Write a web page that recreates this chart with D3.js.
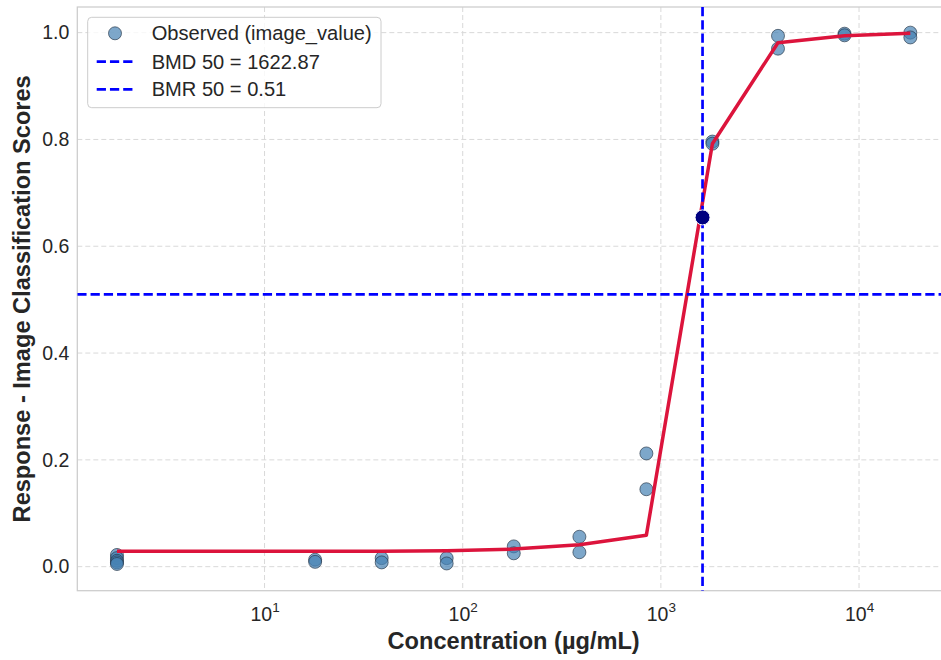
<!DOCTYPE html>
<html><head><meta charset="utf-8">
<script src="https://cdn.jsdelivr.net/npm/d3@7"></script>
<style>
body{margin:0;background:#fff;}
svg{display:block;font-family:"Liberation Sans",Arial,sans-serif;}
</style></head>
<body>
<svg id="chart" width="941" height="660"></svg>
<script>
// ---- data ----
const obsConc = [1.8,1.8,1.8,1.8,1.8, 18,18, 39,39, 83,83, 181,181, 388,388, 845,845, 1820,1820, 3900,3900, 8450,8450, 18150,18150];
const obsValue = [0.022,0.016,0.011,0.008,0.005, 0.013,0.009, 0.016,0.008, 0.016,0.006, 0.038,0.025, 0.056,0.027, 0.212,0.145, 0.796,0.792, 0.994,0.970, 0.998,0.995, 1.0,0.991];
const fitConc = [1.8,18,39,83,181,388,845,1820,3900,8450,18150];
const fitValue = [0.029,0.029,0.029,0.030,0.033,0.041,0.059,0.792,0.981,0.994,0.999];
const bmd = 1622.87;
const bmr = 0.51;
const bmdPointValue = 0.654;
const yTicks = [0.0,0.2,0.4,0.6,0.8,1.0];
const xTickExps = [1,2,3,4];
const legendLabels = ["Observed (image_value)", "BMD 50 = 1622.87", "BMR 50 = 0.51"];
const xLabel = "Concentration (\u00b5g/mL)";
const yLabel = "Response - Image Classification Scores";

// ---- layout ----
const pL = 77.3, pR = 950, pT = 7, pB = 590.7;
const svg = d3.select("#chart");
const lmin = Math.log10(d3.min(obsConc)), lmax = Math.log10(d3.max(obsConc));
const pad = 0.05*(lmax-lmin);
const x = d3.scaleLog().domain([Math.pow(10,lmin-pad), Math.pow(10,lmax+pad)]).range([pL,pR]);
const y = d3.scaleLinear().domain([-0.045,1.048]).range([pB,pT]);
const textColor = "#262626";

// grid
const grid = svg.append("g");
grid.selectAll(".gx").data(xTickExps).join("line")
  .attr("x1",d=>x(Math.pow(10,d))).attr("x2",d=>x(Math.pow(10,d)))
  .attr("y1",pT).attr("y2",pB)
  .attr("stroke","#d9d9d9").attr("stroke-width",1).attr("stroke-dasharray","5,3");
grid.selectAll(".gy").data(yTicks).join("line")
  .attr("x1",pL).attr("x2",pR)
  .attr("y1",d=>y(d)).attr("y2",d=>y(d))
  .attr("stroke","#d9d9d9").attr("stroke-width",1).attr("stroke-dasharray","5,3");

// spines
svg.append("rect").attr("x",pL).attr("y",pT).attr("width",pR-pL).attr("height",pB-pT)
  .attr("fill","none").attr("stroke","#cccccc").attr("stroke-width",1.25);

// axes tick labels
const yAxis = d3.axisLeft(y).tickValues(yTicks).tickFormat(d3.format(".1f")).tickSize(0).tickPadding(8);
const gy = svg.append("g").attr("transform",`translate(${pL},0)`).call(yAxis);
gy.select(".domain").remove();
gy.selectAll("text").attr("font-size","19.5px").attr("fill",textColor).attr("font-family","Liberation Sans, Arial, sans-serif");

const xAxis = d3.axisBottom(x).tickValues(xTickExps.map(e=>Math.pow(10,e))).tickFormat("").tickSize(0);
const gx = svg.append("g").attr("transform",`translate(0,${pB})`).call(xAxis);
gx.select(".domain").remove();
gx.selectAll(".tick").each(function(d){
  const t = d3.select(this).append("text").attr("y",30).attr("text-anchor","middle")
    .attr("fill",textColor).attr("font-size","19.5px").attr("font-family","Liberation Sans, Arial, sans-serif");
  t.append("tspan").text("10");
  t.append("tspan").attr("dy",-9).attr("font-size","13.5px").text(Math.round(Math.log10(d)));
});

// axis labels
svg.append("text").attr("x",(pL+pR)/2).attr("y",649).attr("text-anchor","middle")
  .attr("font-weight","bold").attr("font-size","23.6px").attr("fill",textColor).text(xLabel);
svg.append("text").attr("transform",`translate(30,${(pT+pB)/2}) rotate(-90)`).attr("text-anchor","middle")
  .attr("font-weight","bold").attr("font-size","23.6px").attr("fill",textColor).text(yLabel);

// clip
svg.append("clipPath").attr("id","clip").append("rect").attr("x",pL).attr("y",pT).attr("width",pR-pL).attr("height",pB-pT);
const plot = svg.append("g").attr("clip-path","url(#clip)");

// observed points
plot.selectAll(".obs").data(obsConc.map((c,i)=>[c,obsValue[i]])).join("circle")
  .attr("cx",d=>x(d[0])).attr("cy",d=>y(d[1])).attr("r",6.5)
  .attr("fill","#4682b4").attr("fill-opacity",0.7)
  .attr("stroke","#1f2f3f").attr("stroke-opacity",0.7).attr("stroke-width",0.9);

// fit line
plot.append("path").datum(fitConc.map((c,i)=>[c,fitValue[i]]))
  .attr("d",d3.line().x(d=>x(d[0])).y(d=>y(d[1])))
  .attr("fill","none").attr("stroke","#dc143c").attr("stroke-width",3.5).attr("stroke-linejoin","round");

// BMD / BMR lines
plot.append("line").attr("x1",x(bmd)).attr("x2",x(bmd)).attr("y1",pT).attr("y2",pB)
  .attr("stroke","blue").attr("stroke-width",2.7).attr("stroke-dasharray","9.25,4");
plot.append("line").attr("x1",pL).attr("x2",pR).attr("y1",y(bmr)).attr("y2",y(bmr))
  .attr("stroke","blue").attr("stroke-width",2.7).attr("stroke-dasharray","9.25,4");

// BMD point
plot.append("circle").attr("cx",x(bmd)).attr("cy",y(bmdPointValue)).attr("r",7.5)
  .attr("fill","navy").attr("stroke","white").attr("stroke-width",1);

// legend
const lg = svg.append("g");
lg.append("rect").attr("x",87.7).attr("y",17.3).attr("width",293.3).attr("height",90.4).attr("rx",4)
  .attr("fill","white").attr("fill-opacity",0.8).attr("stroke","#cccccc").attr("stroke-width",1);
const rowY = [33.3,61.7,89.3];
lg.append("circle").attr("cx",115).attr("cy",rowY[0]).attr("r",6.5)
  .attr("fill","#4682b4").attr("fill-opacity",0.7).attr("stroke","#1f2f3f").attr("stroke-opacity",0.7).attr("stroke-width",0.9);
[1,2].forEach(i=>{
  lg.append("line").attr("x1",96.7).attr("x2",135).attr("y1",rowY[i]).attr("y2",rowY[i])
    .attr("stroke","blue").attr("stroke-width",2.7).attr("stroke-dasharray","9.25,4");
});
legendLabels.forEach((t,i)=>{
  lg.append("text").attr("x",151.7).attr("y",rowY[i]).attr("dy","0.35em")
    .attr("font-size","20.1px").attr("fill",textColor).text(t);
});
</script>
</body></html>
